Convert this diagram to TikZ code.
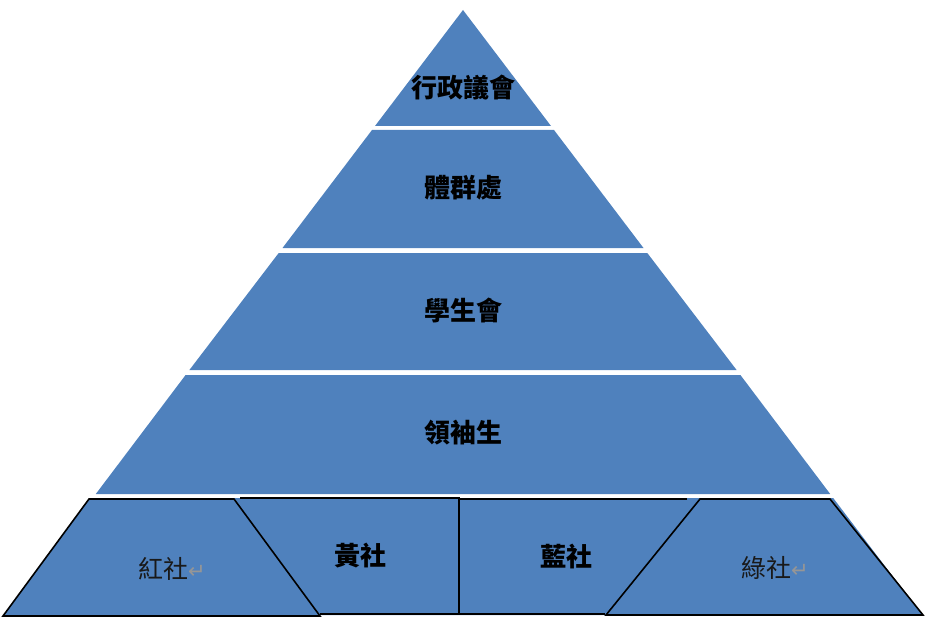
\documentclass[tikz,border=0pt]{standalone}
\usepackage{fontspec}
\newfontfamily\cjk{Noto Sans CJK TC}
\newfontfamily\symfont{DejaVu Sans}
\usepackage{tikz}
\usetikzlibrary{positioning}
\definecolor{pyrblue}{RGB}{79,129,189}
\definecolor{markgray}{RGB}{150,150,150}
\tikzset{
  band/.style={fill=pyrblue, draw=none},
  club/.style={fill=pyrblue, draw=black, line width=1.6pt, line join=miter},
  clubline/.style={draw=black, line width=1.6pt},
  title/.style={font=\cjk\bfseries\fontsize{26}{30}\selectfont, text=black},
  clubname/.style={font=\cjk\fontsize{25}{29}\selectfont, text=black!90},
}
\newcommand{\retmark}{{\symfont\color{markgray}\fontsize{21}{24}\selectfont ↵}}

\begin{document}
\begin{tikzpicture}[x=1pt, y=-1pt]
    \useasboundingbox (0,0) rectangle (929,623);

    % Points
    \coordinate (Apex) at (463, 10);

    % Pyramid bands
    \fill[band] (Apex) -- (551,126) -- (375,126) -- cycle;
    \fill[band] (372,130) -- (554,130) -- (643.5,248) -- (282.5,248) -- cycle;
    \fill[band] (278.7,253) -- (647.3,253) -- (736.6,370) -- (189.4,370) -- cycle;
    \fill[band] (185.6,375) -- (740.4,375) -- (830.2,494) -- (95.8,494) -- cycle;
    \fill[band] (92.8,498) -- (833.2,498) -- (922,615) -- (4,615) -- cycle;

    % Houses
    \draw[club] (89,499) -- (234,499) -- (320,616) -- (3,616) -- cycle;
    \draw[clubline] (240,498) -- (459,498) -- (459,614) -- (320,614);
    \draw[clubline] (459,499) -- (687,499);
    \draw[clubline] (459,614) -- (605,614);
    \draw[club] (700,499) -- (830,499) -- (923,615) -- (606,615) -- cycle;

    % Labels
    \node[title] (council) at (463, 88) {行政議會};
    \node[title] (sports) at (463, 188) {體群處};
    \node[title] (union) at (463, 310) {學生會};
    \node[title] (prefects) at (463, 433) {領袖生};
    \node[clubname] (red) at (172, 569) {紅社\retmark};
    \node[title] (yellow) at (360, 556) {黃社};
    \node[title] (blue) at (566, 556) {藍社};
    \node[clubname] (green) at (775, 568) {綠社\retmark};
\end{tikzpicture}
\end{document}
